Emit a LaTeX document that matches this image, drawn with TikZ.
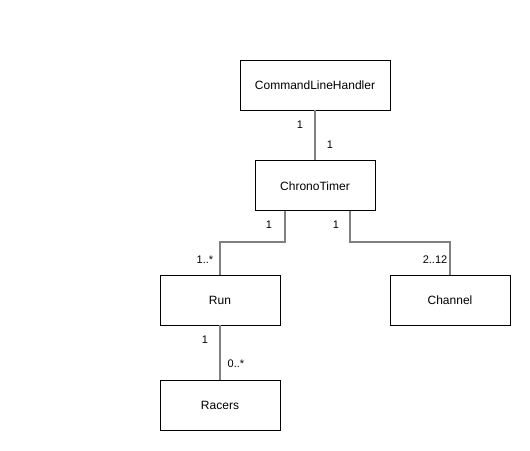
\documentclass[tikz,border=0pt]{standalone}
\usepackage{fontspec}
\setmainfont{Liberation Sans}
\usepackage{xcolor}
\definecolor{umlline}{HTML}{808080}
\usetikzlibrary{positioning}

\begin{document}
\begin{tikzpicture}[
  x=1pt, y=-1pt,
  node distance=50pt and 110pt,
  classbox/.style={rectangle, draw=black, fill=white, line width=0.9pt,
    minimum height=50pt, inner sep=0pt, font=\fontsize{12}{14}\selectfont},
  assoc/.style={draw=umlline, line width=1.6pt},
  mult/.style={font=\fontsize{11}{13}\selectfont, inner sep=1pt}
]
\useasboundingbox (0,0) rectangle (530,450);
\node[classbox, minimum width=150pt] (clh) at (315,85) {CommandLineHandler};
\node[classbox, minimum width=120pt, below=50pt of clh] (ct) {ChronoTimer};
\node[classbox, minimum width=120pt] (run) at (220,300) {Run};
\node[classbox, minimum width=120pt] (chan) at (450,300) {Channel};
\node[classbox, minimum width=120pt, below=55pt of run] (racers) {Racers};
% associations
\draw[assoc] (clh) -- (ct);
\draw[assoc] ([xshift=-30pt]ct.south) |- (220,242) -- (run.north);
\draw[assoc] ([xshift=35pt]ct.south) |- (450,242) -- (chan.north);
\draw[assoc] (run) -- (racers);
% multiplicities
\node[mult] (m1) at (300,125) {1};
\node[mult] (m2) at (330,145) {1};
\node[mult] (m3) at (269,225) {1};
\node[mult] (m4) at (336,225) {1};
\node[mult] (m5) at (205,260) {1..*};
\node[mult, fill=white] (m6) at (435,260) {2..12};
\node[mult] (m7) at (205,340) {1};
\node[mult] (m8) at (236,364) {0..*};
\end{tikzpicture}
\end{document}
